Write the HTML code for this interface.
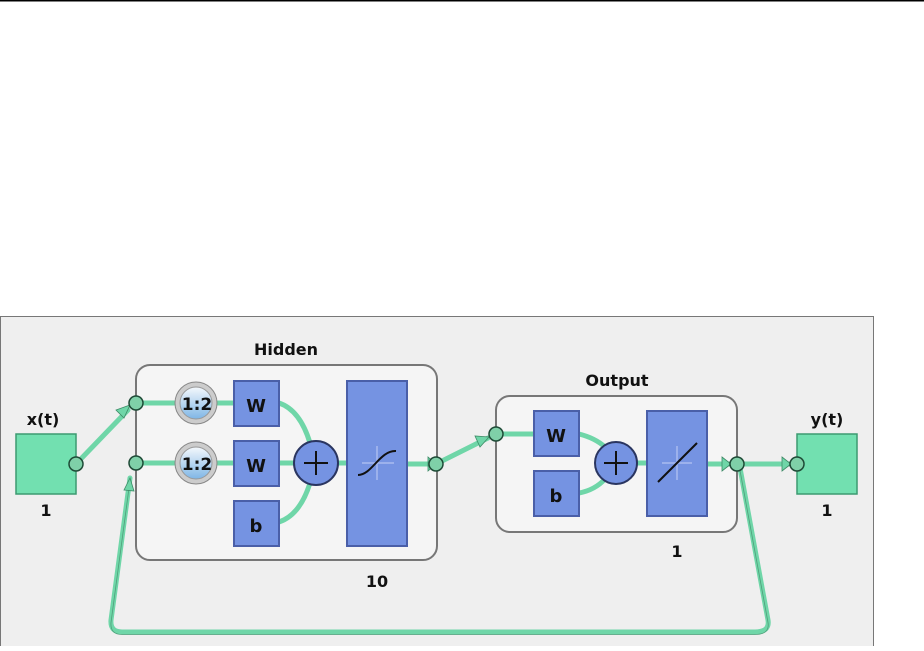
<!DOCTYPE html>
<html><head><style>
body{margin:0;width:924px;height:646px;background:#fff;overflow:hidden}
text{font-family:"DejaVu Sans","Liberation Sans",sans-serif;font-weight:bold;fill:#111}
</style></head><body>
<svg width="924" height="646" viewBox="0 0 924 646" xmlns="http://www.w3.org/2000/svg">
<defs>
<linearGradient id="clk" x1="0" y1="0" x2="0" y2="1"><stop offset="0" stop-color="#f4f8fc"/><stop offset="1" stop-color="#7fb6e6"/></linearGradient>
</defs>
<rect x="0" y="0" width="924" height="1.5" fill="#000"/>
<rect x="0.5" y="316.5" width="873" height="330" fill="#efefef" stroke="#777"/>
<rect x="136" y="365" width="301" height="195" rx="14" fill="#f5f5f5" stroke="#777" stroke-width="2"/>
<rect x="496" y="396" width="241" height="136" rx="14" fill="#f5f5f5" stroke="#777" stroke-width="2"/>
<text x="286" y="355" font-size="16" text-anchor="middle">Hidden</text>
<text x="617" y="386" font-size="16" text-anchor="middle">Output</text>
<text x="43" y="425" font-size="16" text-anchor="middle">x(t)</text>
<text x="827" y="425" font-size="16" text-anchor="middle">y(t)</text>
<text x="46" y="516" font-size="16" text-anchor="middle">1</text>
<text x="827" y="516" font-size="16" text-anchor="middle">1</text>
<text x="377" y="587" font-size="16" text-anchor="middle">10</text>
<text x="677" y="557" font-size="16" text-anchor="middle">1</text>
<g fill="none" stroke="#6fd6a8" stroke-width="5" stroke-linecap="round">
<path d="M76 464 L128 410"/>
<path d="M136 403 H234 M136 463 H234 M279 463 H295"/>
<path d="M279 403 Q300 410 310 443 M279 522 Q300 515 310 483"/>
<path d="M338 463 H347 M407 464 H428"/>
<path d="M436 464 L488 438"/>
<path d="M496 434 H534 M579 434 Q595 438 605 447 M579 493 Q595 490 605 479 M637 463 H647 M707 464 H730 M737 464 H790"/>
<path d="M740 468 L768 620 Q770 632 755 632 L122 632 Q110 632 111 620 L130 478"/>
</g>
<g fill="none" stroke="#4f9e7a" stroke-width="1">
<path d="M740 468 L768 620 Q770 632 755 632 L122 632 Q110 632 111 620 L130 478" stroke-width="0.8" transform="translate(0,2.5)"/>
</g>
<g fill="#6fd6a8" stroke="#3d8a66" stroke-width="0.8">
<path d="M130 405 L116 410 L124 418 Z"/>
<path d="M130 478 L124 490 L134 491 Z"/>
<path d="M428 457 L428 471 L436 464 Z"/>
<path d="M489 437 L475 436 L480 447 Z"/>
<path d="M722 457 L722 471 L731 464 Z"/>
<path d="M782 457 L782 471 L791 464 Z"/>
</g>
<rect x="16" y="434" width="60" height="60" fill="#72e0b0" stroke="#3c9a70" stroke-width="1.5"/>
<rect x="797" y="434" width="60" height="60" fill="#72e0b0" stroke="#3c9a70" stroke-width="1.5"/>
<g fill="#7fd0a8" stroke="#1e4a36" stroke-width="1.5">
<circle cx="76" cy="464" r="7"/><circle cx="136" cy="403" r="7"/><circle cx="136" cy="463" r="7"/>
<circle cx="436" cy="464" r="7"/><circle cx="496" cy="434" r="7"/><circle cx="737" cy="464" r="7"/><circle cx="797" cy="464" r="7"/>
</g>
<g>
<circle cx="196" cy="403" r="21" fill="#ccc" stroke="#888"/><circle cx="196" cy="403" r="16" fill="url(#clk)" stroke="#999"/>
<circle cx="196" cy="463" r="21" fill="#ccc" stroke="#888"/><circle cx="196" cy="463" r="16" fill="url(#clk)" stroke="#999"/>
<text x="197" y="410" font-size="17" text-anchor="middle">1:2</text>
<text x="197" y="470" font-size="17" text-anchor="middle">1:2</text>
</g>
<g fill="#7593e2" stroke="#4a5fa8" stroke-width="2">
<rect x="234" y="381" width="45" height="45"/><rect x="234" y="441" width="45" height="45"/><rect x="234" y="501" width="45" height="45"/>
<rect x="347" y="381" width="60" height="165"/>
<rect x="534" y="411" width="45" height="45"/><rect x="534" y="471" width="45" height="45"/>
<rect x="647" y="411" width="60" height="105"/>
<circle cx="316" cy="463" r="22" stroke="#2a3560"/><circle cx="616" cy="463" r="21" stroke="#2a3560"/>
</g>
<g stroke="#111" stroke-width="2"><path d="M304 463 H328 M316 451 V475 M604 463 H628 M616 451 V475"/></g>
<text x="256" y="412" font-size="18" text-anchor="middle">W</text>
<text x="256" y="472" font-size="18" text-anchor="middle">W</text>
<text x="256" y="532" font-size="18" text-anchor="middle">b</text>
<text x="556" y="442" font-size="18" text-anchor="middle">W</text>
<text x="556" y="502" font-size="18" text-anchor="middle">b</text>
<g stroke="#a9bbf0" stroke-width="1.5"><path d="M362 463 H394 M377 446 V480 M662 463 H692 M677 446 V480"/></g>
<path d="M358 475 C372 475 380 450 396 451" fill="none" stroke="#111" stroke-width="2"/>
<path d="M658 482 L697 443" fill="none" stroke="#111" stroke-width="2"/>
</svg>
</body></html>
